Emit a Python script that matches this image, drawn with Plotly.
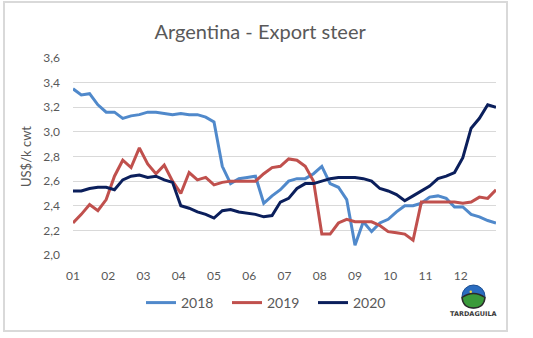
import plotly.graph_objects as go

# Weekly export steer prices, US$/k cwt (52 weeks per year)
prices_2018 = [3.35, 3.30, 3.31, 3.22, 3.16, 3.16, 3.11, 3.13, 3.14, 3.16,
               3.16, 3.15, 3.14, 3.15, 3.14, 3.14, 3.12, 3.08, 2.72, 2.58,
               2.62, 2.63, 2.64, 2.42, 2.48, 2.53, 2.60, 2.62, 2.62, 2.66,
               2.72, 2.58, 2.55, 2.45, 2.08, 2.27, 2.19, 2.26, 2.29, 2.35,
               2.40, 2.40, 2.42, 2.47, 2.48, 2.46, 2.39, 2.39, 2.33, 2.31,
               2.28, 2.26]
prices_2019 = [2.26, 2.33, 2.41, 2.36, 2.45, 2.64, 2.77, 2.71, 2.87, 2.74,
               2.66, 2.73, 2.60, 2.50, 2.67, 2.61, 2.63, 2.57, 2.59, 2.60,
               2.60, 2.60, 2.60, 2.66, 2.71, 2.72, 2.78, 2.77, 2.72, 2.60,
               2.17, 2.17, 2.26, 2.29, 2.27, 2.27, 2.27, 2.24, 2.19, 2.18,
               2.17, 2.12, 2.43, 2.43, 2.43, 2.43, 2.43, 2.42, 2.43, 2.47,
               2.46, 2.53]
prices_2020 = [2.52, 2.52, 2.54, 2.55, 2.55, 2.53, 2.61, 2.64, 2.65, 2.63,
               2.64, 2.61, 2.59, 2.40, 2.38, 2.35, 2.33, 2.30, 2.36, 2.37,
               2.35, 2.34, 2.33, 2.31, 2.32, 2.43, 2.46, 2.54, 2.58, 2.58,
               2.60, 2.62, 2.63, 2.63, 2.63, 2.62, 2.60, 2.54, 2.52, 2.49,
               2.44, 2.48, 2.52, 2.56, 2.62, 2.64, 2.67, 2.79, 3.03, 3.11,
               3.22, 3.20]

month_labels = ["01", "02", "03", "04", "05", "06", "07", "08", "09", "10", "11", "12"]
y_ticks = [2.0, 2.2, 2.4, 2.6, 2.8, 3.0, 3.2, 3.4, 3.6]
y_tick_labels = ["2,0", "2,2", "2,4", "2,6", "2,8", "3,0", "3,2", "3,4", "3,6"]

series = [("2018", prices_2018, "#5089cb"),
          ("2019", prices_2019, "#c0504d"),
          ("2020", prices_2020, "#0b1f5c")]

n_weeks = len(prices_2018)
# position of each week on a month scale running from 1 to 13
week_x = [1 + 12 * i / (n_weeks - 1) for i in range(n_weeks)]

FONT = "Lato, 'Open Sans', sans-serif"
GREY = "#595959"

W, H = 533, 338
ML, MR, MT, MB = 73, 37, 58, 83
PW, PH = W - ML - MR, H - MT - MB


def px_x(px):
    return (px - ML) / PW


def px_y(py):
    return (H - MB - py) / PH


fig = go.Figure()
for name, vals, color in series:
    fig.add_trace(go.Scatter(x=week_x, y=vals, mode="lines", name=name,
                             line=dict(color=color, width=3)))

fig.update_layout(
    width=W, height=H,
    margin=dict(l=ML, r=MR, t=MT, b=MB),
    paper_bgcolor="white", plot_bgcolor="white",
    font=dict(family=FONT, color=GREY, size=12),
    title=dict(text="Argentina - Export steer", x=0.488, xanchor="center",
               y=0.906, yanchor="middle",
               font=dict(family=FONT, size=20, color=GREY)),
    showlegend=True,
    legend=dict(orientation="h", x=px_x(141), xanchor="left",
                y=px_y(303), yanchor="middle",
                font=dict(family=FONT, size=14, color=GREY),
                entrywidth=41, bgcolor="rgba(0,0,0,0)"),
    xaxis=dict(range=[1, 13], tickvals=list(range(1, 13)), ticktext=month_labels,
               showgrid=False, zeroline=False, showline=False, ticks="",
               tickfont=dict(family=FONT, size=12, color=GREY), ticklabelstandoff=12,
               fixedrange=True),
    yaxis=dict(range=[2.0, 3.6], tickvals=y_ticks, ticktext=y_tick_labels,
               showgrid=True, gridcolor="#d9d9d9", gridwidth=1, zeroline=False,
               showline=False, ticks="", ticklabelstandoff=12,
               tickfont=dict(family=FONT, size=12, color=GREY),
               title=dict(text="US$/k cwt", standoff=8,
                          font=dict(family=FONT, size=13, color=GREY)),
               fixedrange=True),
)

# thin frame around the whole chart
fig.add_shape(type="rect", xref="paper", yref="paper",
              x0=px_x(4), x1=px_x(507), y0=px_y(331), y1=px_y(2),
              line=dict(color="#d9d9d9", width=2), fillcolor="rgba(0,0,0,0)")

# small company emblem in the lower right corner
cx, cy, r = 473.5, 296.5, 11.5
fig.add_shape(type="circle", xref="paper", yref="paper",
              x0=px_x(cx - r), x1=px_x(cx + r), y0=px_y(cy + r), y1=px_y(cy - r),
              fillcolor="#2a6cc0", line=dict(color="#1d4f91", width=1))
fig.add_shape(type="path", xref="paper", yref="paper",
              path=(f"M {px_x(cx - r)},{px_y(cy + 1)} "
                    f"Q {px_x(cx)},{px_y(cy - 7)} {px_x(cx + r)},{px_y(cy + 1)} "
                    f"Q {px_x(cx + r - 1)},{px_y(cy + r)} {px_x(cx)},{px_y(cy + r)} "
                    f"Q {px_x(cx - r + 1)},{px_y(cy + r)} {px_x(cx - r)},{px_y(cy + 1)} Z"),
              fillcolor="#3a9a3a", line=dict(color="#2b2b2b", width=1.5))
fig.add_shape(type="circle", xref="paper", yref="paper",
              x0=px_x(cx - 4), x1=px_x(cx - 1.5), y0=px_y(cy - 3.5), y1=px_y(cy - 6),
              fillcolor="#f2d43a", line=dict(width=0))
fig.add_annotation(text="<b>TARDAGUILA</b>", xref="paper", yref="paper",
                   x=px_x(cx), y=px_y(313.5), xanchor="center", yanchor="middle",
                   showarrow=False,
                   font=dict(family="DejaVu Sans", size=6.5, color="#3a3a3a"))

fig.write_html("out.html")
